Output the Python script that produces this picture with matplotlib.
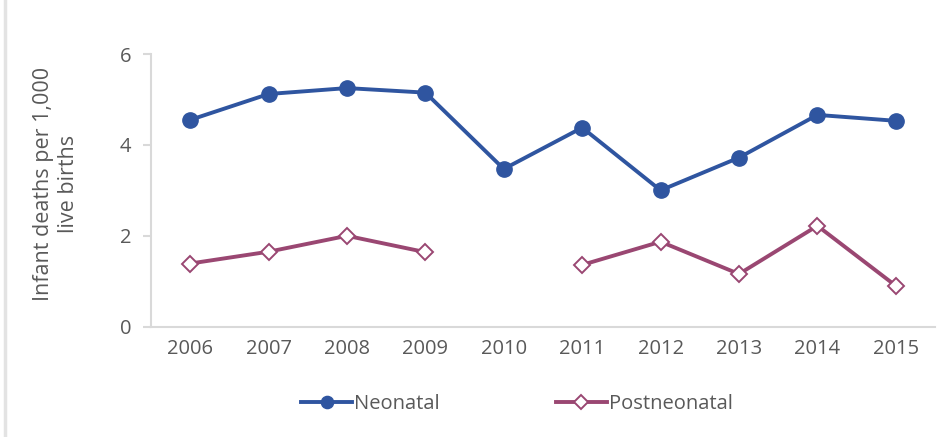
import matplotlib.pyplot as plt
import numpy as np

years = ["2006", "2007", "2008", "2009", "2010", "2011", "2012", "2013", "2014", "2015"]
neonatal = [4.55, 5.12, 5.25, 5.15, 3.47, 4.38, 3.00, 3.72, 4.66, 4.53]
postneonatal = [1.39, 1.65, 2.00, 1.64, np.nan, 1.36, 1.87, 1.16, 2.22, 0.90]

TEXT = "#595959"
GRID = "#D9D9D9"
BLUE = "#2F55A0"
MAROON = "#9A4772"

plt.rcParams["font.family"] = ["Open Sans", "DejaVu Sans"]

fig = plt.figure(figsize=(9.51, 4.37), dpi=100)
ax = fig.add_axes([151 / 951, 1 - 326.7 / 437, (935 - 151) / 951, (326.7 - 54) / 437])

x = np.arange(len(years))
ax.plot(x, neonatal, color=BLUE, lw=2.8, marker="o", markersize=11,
        markerfacecolor=BLUE, markeredgecolor=BLUE, label="Neonatal", zorder=3)
ax.plot(x, postneonatal, color=MAROON, lw=2.8, marker="D", markersize=8.5,
        markerfacecolor="white", markeredgecolor=MAROON, markeredgewidth=1.4,
        label="Postneonatal", zorder=3)

ax.set_xlim(-0.5, len(years) - 0.5)
ax.set_ylim(0, 6)
ax.set_yticks([0, 2, 4, 6])
ax.set_xticks(x)
ax.set_xticklabels(years)

for side in ["top", "right"]:
    ax.spines[side].set_visible(False)
for side in ["left", "bottom"]:
    ax.spines[side].set_color(GRID)
    ax.spines[side].set_linewidth(1.5)

ax.tick_params(axis="y", colors=GRID, labelcolor=TEXT, labelsize=14.5,
               length=6, width=1.5, pad=8)
ax.tick_params(axis="x", length=0, labelcolor=TEXT, labelsize=14.5, pad=9)

fig.text(56 / 951, 1 - 184 / 437, "Infant deaths per 1,000\nlive births",
         rotation=90, ha="center", va="center", color=TEXT, fontsize=15.5,
         linespacing=1.3)

fig.legend(loc="center", bbox_to_anchor=(517 / 951, 1 - 404 / 437), ncol=2,
           frameon=False, fontsize=14.5, labelcolor=TEXT, handlelength=2.5,
           handletextpad=0.1, columnspacing=5.8, markerscale=0.8)

# thin border at the left edge of the picture
fig.add_artist(plt.Line2D([4.5 / 951, 4.5 / 951], [0, 1], color="#E3E3E3",
                          lw=2.5, transform=fig.transFigure))

fig.savefig("out.png", dpi=100)
